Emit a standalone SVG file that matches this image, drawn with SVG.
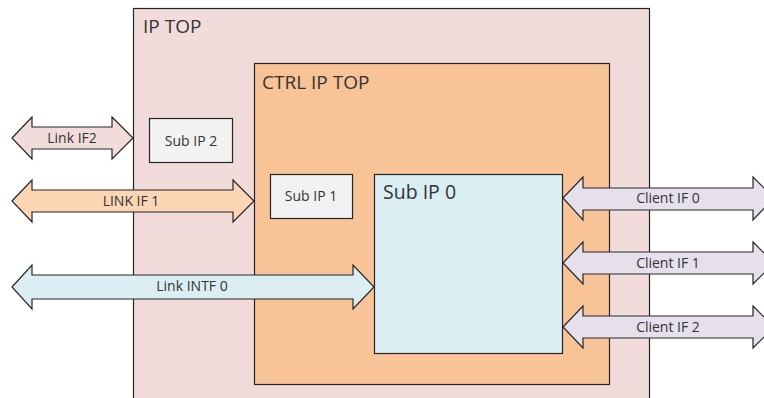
<svg xmlns="http://www.w3.org/2000/svg" width="764" height="398" viewBox="0 0 764 398">
  <style>
    .box { stroke: #262626; stroke-width: 1.2; }
    .arrow { stroke: #262626; stroke-width: 1.2; stroke-linejoin: miter; }
    text { font-family: "Open Sans", "Noto Sans", "Liberation Sans", sans-serif; fill: #333333; }
    .lbl { font-size: 14px; text-anchor: middle; }
    .title { font-size: 19px; }
  </style>
  <rect width="764" height="398" fill="#ffffff"/>

  <g id="ip-top">
    <rect class="box" x="133.5" y="8.5" width="516" height="400" fill="#f2dcdb"/>
    <text class="title" x="143" y="33">IP TOP</text>
  </g>

  <g id="ctrl-ip-top">
    <rect class="box" x="254.5" y="63.5" width="355" height="321" fill="#f9c398"/>
    <text class="title" x="262" y="89">CTRL IP TOP</text>
  </g>

  <g id="sub-ip-2">
    <rect class="box" x="149.5" y="118.5" width="83" height="44" fill="#f2f2f2"/>
    <text class="lbl" x="191" y="146">Sub IP 2</text>
  </g>

  <g id="sub-ip-1">
    <rect class="box" x="270.5" y="174.5" width="82" height="44" fill="#f2f2f2"/>
    <text class="lbl" x="311" y="201">Sub IP 1</text>
  </g>

  <g id="sub-ip-0">
    <rect class="box" x="374.5" y="174.5" width="188" height="179" fill="#daeef3"/>
    <text x="383" y="199" style="font-size:19.5px">Sub IP 0</text>
  </g>

  <g id="connectors">
    <!-- Link IF2: double arrow, centre y 138 -->
    <g id="link-if2">
      <path class="arrow" fill="#f2dcdb" d="M12,138 L32,117 L32,127 L112,127 L112,117 L133,138 L112,159 L112,149 L32,149 L32,159 Z"/>
      <text class="lbl" x="72" y="143">Link IF2</text>
    </g>
    <!-- LINK IF 1: double arrow, centre y 201 -->
    <g id="link-if1">
      <path class="arrow" fill="#fcd5b4" d="M12,201 L32,180 L32,190 L233,190 L233,180 L254,201 L233,222 L233,212 L32,212 L32,222 Z"/>
      <text class="lbl" x="131" y="206">LINK IF 1</text>
    </g>
    <!-- Link INTF 0: double arrow into Sub IP 0, centre y 287 -->
    <g id="link-intf0">
      <path class="arrow" fill="#daeef3" d="M12,287 L32,265 L32,275 L353,275 L353,265 L374,287 L353,309 L353,299 L32,299 L32,309 Z"/>
      <text class="lbl" x="192" y="291">Link INTF 0</text>
    </g>
    <!-- Client interfaces leaving Sub IP 0 to the right -->
    <g id="client-if0">
      <path class="arrow" fill="#e6e0ec" d="M563,198 L583,177 L583,188 L753,188 L753,177 L774,198 L753,220 L753,210 L583,210 L583,220 Z"/>
      <text class="lbl" x="668" y="203">Client IF 0</text>
    </g>
    <g id="client-if1">
      <path class="arrow" fill="#e6e0ec" d="M563,263 L583,242 L583,252 L753,252 L753,242 L774,263 L753,284 L753,274 L583,274 L583,284 Z"/>
      <text class="lbl" x="668" y="268">Client IF 1</text>
    </g>
    <g id="client-if2">
      <path class="arrow" fill="#e6e0ec" d="M563,327 L583,306 L583,316 L753,316 L753,306 L774,327 L753,348 L753,338 L583,338 L583,348 Z"/>
      <text class="lbl" x="668" y="332">Client IF 2</text>
    </g>
  </g>
</svg>
